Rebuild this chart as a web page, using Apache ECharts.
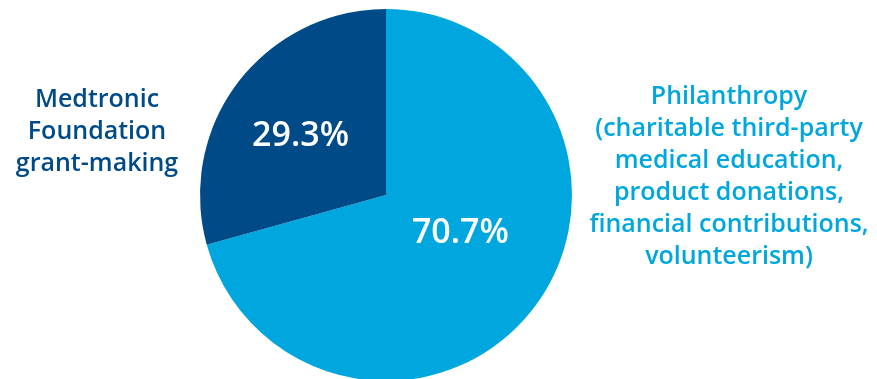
<!DOCTYPE html>
<html>
<head>
<meta charset="utf-8">
<script src="https://cdn.jsdelivr.net/npm/echarts@6/dist/echarts.min.js"></script>
<style>html,body{margin:0;padding:0;background:#fff}#c{width:877px;height:379px}</style>
</head>
<body>
<div id="c"></div>
<script>
const categories = ['Philanthropy', 'Medtronic Foundation grant-making'];
const values = [70.7, 29.3];
const outerLabels = [
  'Philanthropy\n(charitable third-party\nmedical education,\nproduct donations,\nfinancial contributions,\nvolunteerism)',
  'Medtronic\nFoundation\ngrant-making'
];
const colors = ['#00a7df', '#004b87'];

const chart = echarts.init(document.getElementById('c'));
const font = '"Open Sans", "Noto Sans", sans-serif';
chart.setOption({
  animation: false,
  backgroundColor: '#ffffff',
  series: [{
    type: 'pie',
    center: [386, 195],
    radius: [0, 186],
    startAngle: 90,
    clockwise: true,
    silent: true,
    data: categories.map((c, i) => ({
      name: c,
      value: values[i],
      itemStyle: { color: colors[i] },
      label: { offset: i === 0 ? [-2, -20] : [-9, -1] }
    })),
    label: {
      show: true,
      position: 'inside',
      formatter: p => p.value.toFixed(1) + '%',
      color: '#ffffff',
      fontFamily: font,
      fontWeight: 600,
      fontSize: 34
    },
    labelLine: { show: false }
  }],
  graphic: [
    {
      type: 'text', x: 729, y: 177,
      style: {
        text: outerLabels[0], fill: colors[0], fontFamily: font, fontWeight: 600,
        fontSize: 25, lineHeight: 32, textAlign: 'center', textVerticalAlign: 'middle'
      }
    },
    {
      type: 'text', x: 97, y: 132,
      style: {
        text: outerLabels[1], fill: colors[1], fontFamily: font, fontWeight: 600,
        fontSize: 25, lineHeight: 32, textAlign: 'center', textVerticalAlign: 'middle'
      }
    }
  ]
});
</script>
</body>
</html>
